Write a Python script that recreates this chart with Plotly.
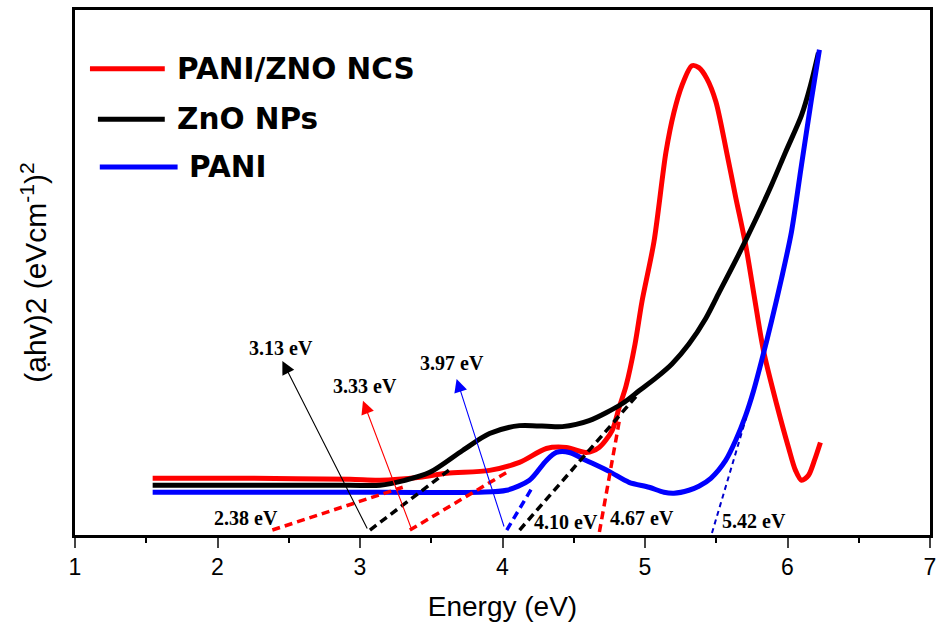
import plotly.graph_objects as go

# ---- data (energy in eV, intensity in arbitrary units) ----
red_x = [1.545, 2.231, 2.930, 3.140, 3.420, 3.608, 3.909, 4.119, 4.308, 4.448, 4.587, 4.678, 4.769,
         4.818, 4.867, 4.930, 4.979, 5.063, 5.147, 5.203, 5.259, 5.329, 5.378, 5.434, 5.497, 5.573,
         5.636, 5.706, 5.769, 5.832, 5.923, 6.007, 6.056, 6.098, 6.147, 6.189, 6.231]
red_y = [57, 57, 56, 55, 58, 62, 65, 73, 87, 88, 83, 88, 105,
         128, 150, 192, 235, 295, 385, 425, 452, 472, 470, 459, 436, 385,
         340, 292, 238, 185, 132, 88, 65, 55, 60, 75, 93]

black_x = [1.545, 2.231, 2.930, 3.140, 3.315, 3.490, 3.720, 3.909, 4.119, 4.420, 4.608, 4.839, 4.958,
           5.077, 5.189, 5.308, 5.427, 5.517, 5.657, 5.776, 5.888, 5.986, 6.098, 6.161, 6.217]
black_y = [50, 50, 50, 50, 55, 63, 85, 102, 110, 109, 115, 132, 145,
           158, 172, 192, 218, 243, 282, 317, 352, 385, 422, 452, 485]

blue_x = [1.545, 3.140, 3.839, 4.028, 4.189, 4.308, 4.378, 4.469, 4.587, 4.748, 4.888, 5.028, 5.133,
          5.203, 5.308, 5.378, 5.462, 5.566, 5.636, 5.706, 5.762, 5.818, 5.888, 5.958, 6.028, 6.098,
          6.168, 6.224]
blue_y = [43, 43, 43, 45, 55, 75, 83, 83, 75, 64, 53, 48, 43,
          42, 45, 49, 57, 75, 95, 120, 145, 175, 215, 258, 305, 372,
          438, 488]

series_names = ["PANI/ZNO NCS", "ZnO NPs", "PANI"]
series_colors = ["#ff0000", "#000000", "#0000ff"]

# tangent (Tauc) lines: start / end points
tan_x0 = [2.385, 3.350, 4.680, 3.070, 4.120, 4.030, 5.470]
tan_y0 = [5, 5, 3, 5, 5, 5, 2]
tan_x1 = [3.300, 4.030, 4.820, 3.650, 4.960, 4.210, 5.710]
tan_y1 = [48, 63, 115, 68, 143, 48, 118]
tan_color = ["#ff0000", "#ff0000", "#ff0000", "#000000", "#000000", "#0000ff", "#0000cc"]
tan_width = [3.5, 3.5, 3.5, 3.5, 3.5, 3.5, 2]
tan_dash = ["8px,5px", "8px,5px", "8px,5px", "8px,5px", "8px,5px", "8px,5px", "5px,4px"]

# band gap labels
gap_labels = ["3.13 eV", "3.33 eV", "3.97 eV", "2.38 eV", "4.10 eV", "4.67 eV", "5.42 eV"]
gap_lx = [2.448, 3.035, 3.643, 2.203, 4.448, 4.979, 5.762]
gap_ly = [188, 150, 173, 17, 13, 17, 14]

# arrows: tail -> head
arr_tx = [3.056, 3.364, 4.014]
arr_ty = [5, 5, 7]
arr_hx = [2.455, 3.021, 3.678]
arr_hy = [175, 135, 157]
arr_color = ["#000000", "#ff0000", "#0000ff"]

x_ticks = [1, 2, 3, 4, 5, 6, 7]

fig = go.Figure()

for xs, ys, name, col in zip([red_x, black_x, blue_x], [red_y, black_y, blue_y], series_names, series_colors):
    fig.add_trace(go.Scatter(x=xs, y=ys, mode="lines", name=name, showlegend=False,
                             line=dict(color=col, width=5, shape="spline", smoothing=0.8)))

for x0, y0, x1, y1, c, w, d in zip(tan_x0, tan_y0, tan_x1, tan_y1, tan_color, tan_width, tan_dash):
    fig.add_trace(go.Scatter(x=[x0, x1], y=[y0, y1], mode="lines", showlegend=False,
                             line=dict(color=c, width=w, dash=d)))

annotations = []
for t, x, y in zip(gap_labels, gap_lx, gap_ly):
    annotations.append(dict(x=x, y=y, xref="x", yref="y", text="<b>" + t + "</b>", showarrow=False,
                            font=dict(family="Liberation Serif", size=20, color="#000")))
for tx, ty, hx, hy, c in zip(arr_tx, arr_ty, arr_hx, arr_hy, arr_color):
    annotations.append(dict(x=hx, y=hy, ax=tx, ay=ty, xref="x", yref="y", axref="x", ayref="y",
                            text="", showarrow=True, arrowhead=2, arrowsize=2.4, arrowwidth=1.1,
                            arrowcolor=c))

# manual legend
leg_x0 = [0.0175, 0.0268, 0.029]
leg_x1 = [0.105, 0.105, 0.120]
leg_y = [0.888, 0.792, 0.701]
leg_tx = [0.1166, 0.1166, 0.1305]
shapes = []
for x0, x1, y, tx, name, col in zip(leg_x0, leg_x1, leg_y, leg_tx, series_names, series_colors):
    shapes.append(dict(type="line", xref="paper", yref="paper", x0=x0, x1=x1, y0=y, y1=y,
                       line=dict(color=col, width=5)))
    annotations.append(dict(x=tx, y=y, xref="paper", yref="paper", xanchor="left", yanchor="middle",
                            text="<b>" + name + "</b>", showarrow=False,
                            font=dict(family="DejaVu Sans", size=29.5, color="#000")))

fig.update_layout(
    width=943, height=630,
    margin=dict(l=75, r=10, t=7, b=95),
    paper_bgcolor="white", plot_bgcolor="white",
    shapes=shapes, annotations=annotations,
    xaxis=dict(range=[1, 7], tickvals=x_ticks, ticks="outside", ticklen=10, tickwidth=2,
               showline=True, linewidth=2.5, linecolor="#000", mirror=True, showgrid=False, zeroline=False,
               minor=dict(dtick=0.5, ticks="outside", ticklen=5, tickwidth=1.5, tickcolor="#000"),
               tickfont=dict(family="Liberation Sans", size=23, color="#000"),
               title=dict(text="Energy (eV)", standoff=18,
                          font=dict(family="Liberation Sans", size=28, color="#000"))),
    yaxis=dict(range=[0, 528], showticklabels=False, ticks="", showline=True, linewidth=2.5,
               linecolor="#000", mirror=True, showgrid=False, zeroline=False,
               title=dict(text="(ạhv)2 (eVcm<sup>-1</sup>)<sup>2</sup>", standoff=17,
                          font=dict(family="Liberation Sans", size=30, color="#000"))),
)

fig.write_html("out.html")
